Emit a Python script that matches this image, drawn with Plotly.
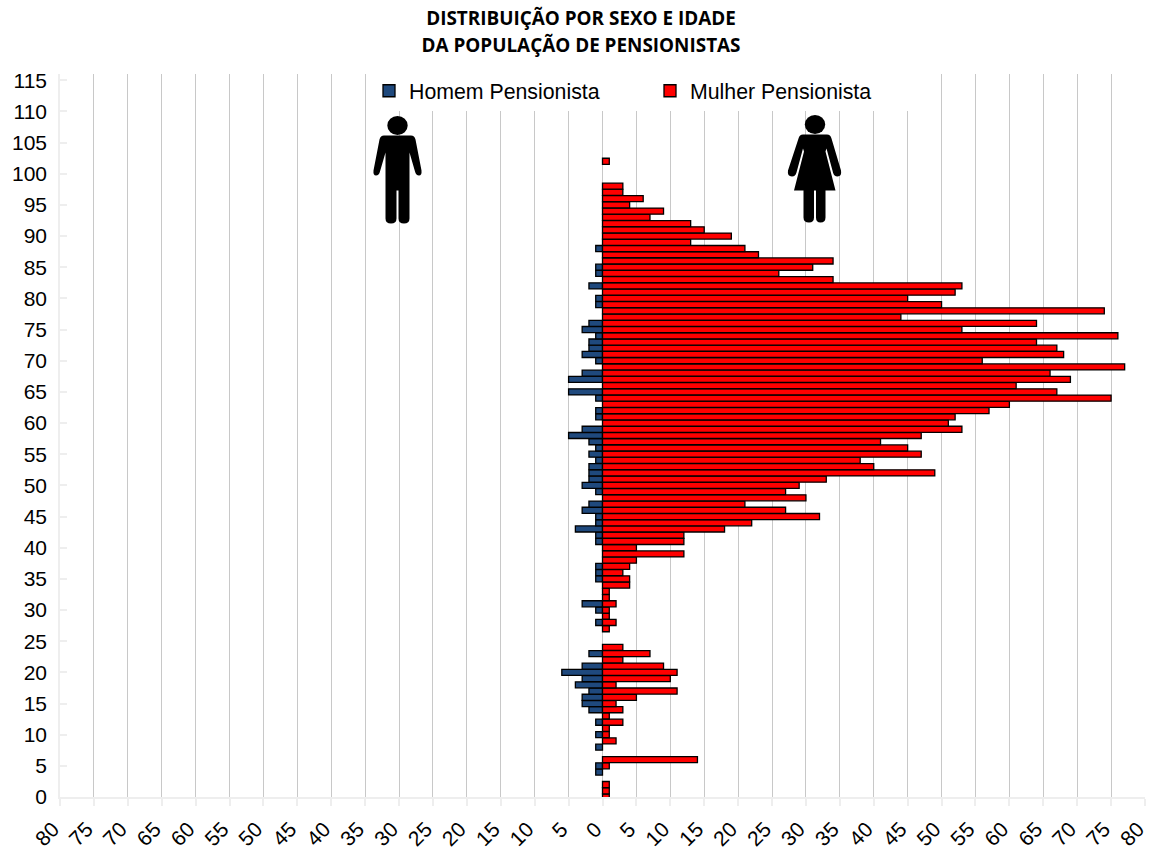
import plotly.graph_objects as go

ages = list(range(0, 103))
mulher = [1,1,1,0,0,1,14,0,0,2,1,1,3,1,3,2,5,11,2,10,11,9,3,7,3,0,0,1,2,1,
          1,2,1,1,4,4,3,4,5,12,5,12,12,18,22,32,27,21,30,27,29,33,49,40,38,47,45,41,47,53,
          51,52,57,60,75,67,61,69,66,77,56,68,67,64,76,53,64,44,74,50,45,52,53,34,26,31,34,23,21,13,
          19,15,13,7,9,4,6,3,3,0,0,0,1]
homem = [0,0,0,0,1,1,0,0,1,0,1,0,1,0,2,3,3,2,4,3,6,3,0,2,0,0,0,0,1,0,
         1,3,0,0,0,1,1,1,0,0,0,1,1,4,1,1,3,2,0,1,3,2,2,2,1,2,1,2,5,3,
         0,1,1,0,1,5,0,5,3,0,1,3,2,2,1,3,2,0,0,1,1,0,2,0,1,1,0,0,1,0,
         0,0,0,0,0,0,0,0,0,0,0,0,0]
x_ticks = list(range(-80, 85, 5))
x_labels = [str(abs(v)) for v in x_ticks]
y_ticks = list(range(0, 120, 5))
title_l1 = "DISTRIBUIÇÃO POR SEXO E IDADE"
title_l2 = "DA POPULAÇÃO DE PENSIONISTAS"

W, H = 1149, 852
L, R, T, B = 60, 1145, 73.5, 797

def px(pts):
    out = []
    for tok in pts.split():
        if "," in tok:
            a, b = tok.split(",")
            out.append(f"{(float(a)-L)/(R-L):.5f},{1-(float(b)-T)/(B-T):.5f}")
        else:
            out.append(tok)
    return " ".join(out)

man = ("M 384,135 L 411,135 Q 414.5,135 415.5,139 L 421.5,170 Q 422,175 419,175 Q 416,175 415,171 "
       "L 409.5,152 L 409.5,218 Q 409.5,223 404,223 Q 398.5,223 398.5,218 L 398.5,190 L 396.5,190 "
       "L 396.5,218 Q 396.5,223 391,223 Q 385.5,223 385.5,218 L 385.5,152 L 380,171 Q 379,175 376,175 "
       "Q 373,175 373.5,170 L 379.5,139 Q 380.5,135 384,135 Z")
woman = ("M 803,134 L 827,134 Q 830.5,134 831.5,138 L 841,170 Q 842,176 837.5,176 Q 834,176 833,172 "
         "L 826.5,148 L 825.5,151 L 835.5,190 L 825.5,190 L 825.5,217 Q 825.5,222 820.5,222 "
         "Q 816,222 816,217 L 816,190 L 814,190 L 814,217 Q 814,222 809,222 Q 803.5,222 803.5,217 "
         "L 803.5,190 L 794,190 L 804,151 L 803,148 L 796.5,172 Q 795.5,176 792,176 Q 787,176 788,170 "
         "L 798.5,138 Q 799.5,134 803,134 Z")

def head(cx, cy, rx=10.2, ry=9.5):
    return dict(type="circle", xref="paper", yref="paper",
                x0=(cx-rx-L)/(R-L), x1=(cx+rx-L)/(R-L),
                y0=1-(cy+ry-T)/(B-T), y1=1-(cy-ry-T)/(B-T),
                fillcolor="black", line=dict(width=0), layer="above")

def body(path):
    return dict(type="path", xref="paper", yref="paper", path=px(path),
                fillcolor="black", line=dict(width=0), layer="above")

def nz(vals, sign=1):
    return [sign*v if v else None for v in vals]

fig = go.Figure()
fig.add_bar(y=ages, x=nz(homem, -1), orientation="h", name="Homem Pensionista",
            marker=dict(color="#1f497d", line=dict(color="black", width=1.3)))
fig.add_bar(y=ages, x=nz(mulher), orientation="h", name="Mulher Pensionista",
            marker=dict(color="#ff0000", line=dict(color="black", width=1.3)))

span = '<span style="font-size:18.9px">%s</span>'
fig.update_layout(
    width=W, height=H, autosize=False,
    margin=dict(l=L, r=W-R, t=T, b=H-B, pad=0, autoexpand=False),
    paper_bgcolor="white", plot_bgcolor="white",
    barmode="overlay", bargap=0.03,
    title=dict(text=span % title_l1 + "<br>" + span % title_l2, x=581/W, xanchor="center",
               y=1-24.5/H, yanchor="middle", xref="container", yref="container",
               font=dict(family="Open Sans", size=21, color="black", weight="bold")),
    font=dict(family="Liberation Sans", color="black"),
    legend=dict(orientation="h", x=(369-L)/(R-L), xanchor="left", y=1.005, yanchor="top",
                bgcolor="white", font=dict(size=21.3), entrywidth=236, entrywidthmode="pixels",
                traceorder="normal", itemwidth=30),
    shapes=[head(397.5, 125), body(man), head(815, 124), body(woman)],
    xaxis=dict(range=[-80, 80], tickmode="array", tickvals=x_ticks, ticktext=x_labels,
               tickangle=-45, tickfont=dict(size=21), showgrid=True, gridcolor="#c8c8c8", gridwidth=1.3,
               zeroline=False, showline=True, linecolor="#eeeeee", linewidth=1.5, automargin=False,
               ticks="outside", ticklen=7, tickcolor="#eeeeee", tickwidth=1.5,
               ticklabeloverflow="allow", ticklabelshift=-7, ticklabelstandoff=3),
    yaxis=dict(range=[0, 116], tickmode="array", tickvals=y_ticks, ticktext=[str(v) for v in y_ticks],
               tickfont=dict(size=21), showgrid=False, zeroline=False, showline=True, automargin=False,
               linecolor="#eeeeee", linewidth=1.5, ticks="inside", ticklen=7, tickcolor="#eeeeee", tickwidth=1.5,
               ticklabelstandoff=7),
)
fig.write_html("out.html", post_script="document.body.style.margin='0';",
               config=dict(displayModeBar=False))
